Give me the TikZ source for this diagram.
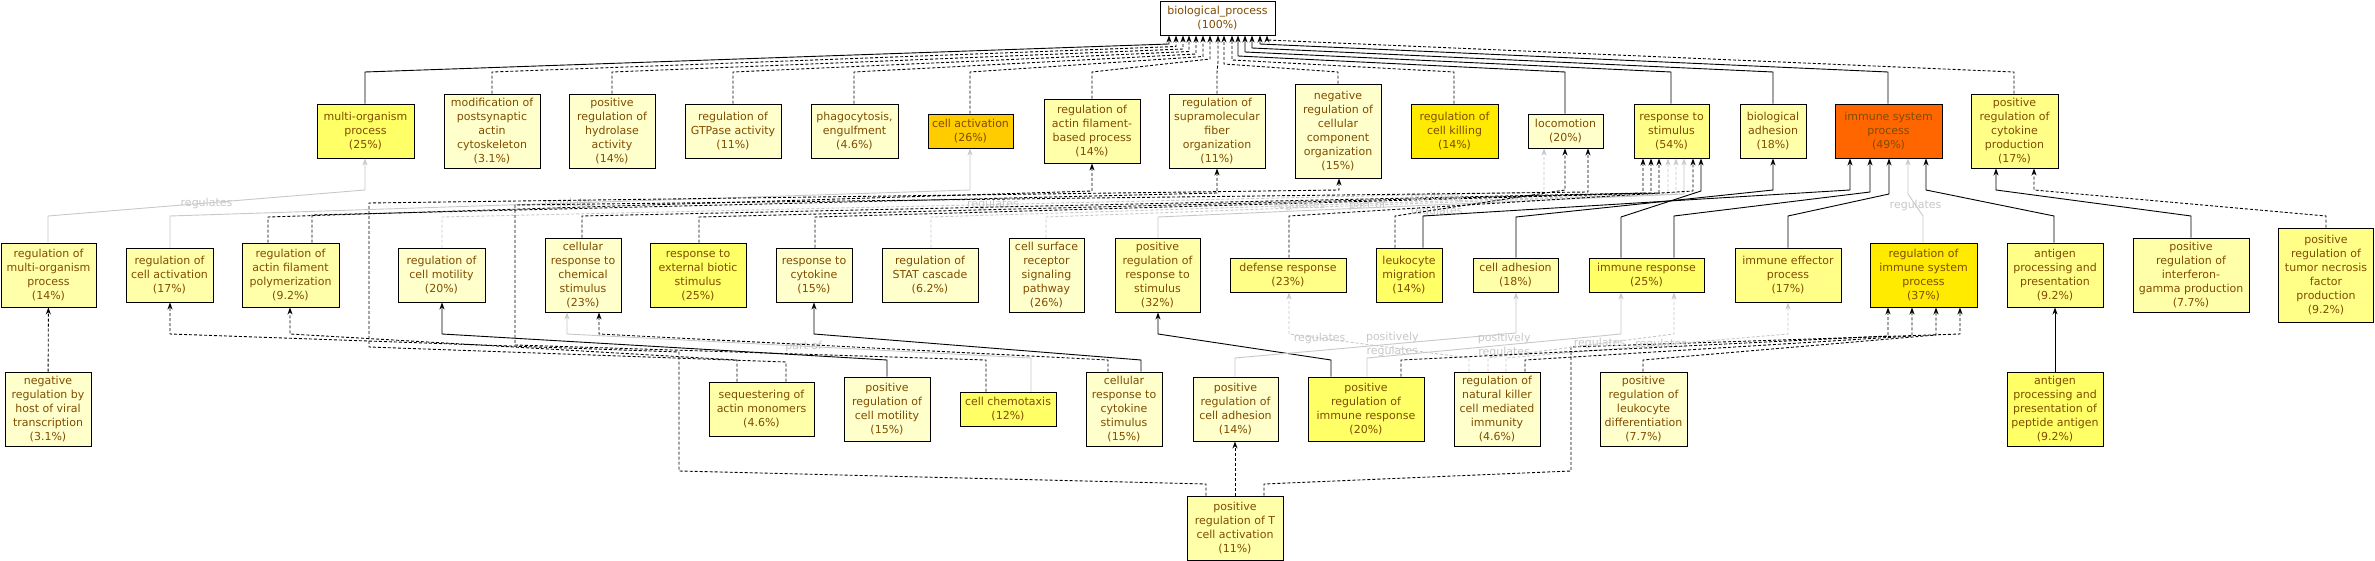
\documentclass[tikz,border=0pt]{standalone}
\usepackage{fontspec}
\setmainfont{DejaVu Sans}
\usetikzlibrary{arrows.meta}
\definecolor{txtc}{RGB}{128,76,0}
\definecolor{edgeg}{RGB}{200,200,200}
\definecolor{cw}{RGB}{255,255,255}
\definecolor{corange}{RGB}{255,102,0}
\definecolor{cgold}{RGB}{255,204,0}
\definecolor{cy0}{RGB}{255,235,0}
\definecolor{cy1}{RGB}{255,255,102}
\definecolor{cy2}{RGB}{255,255,136}
\definecolor{cy3}{RGB}{255,255,170}
\definecolor{cy4}{RGB}{255,255,204}
\tikzset{
 gobox/.style={draw=black, line width=0.9pt, text=txtc, align=center, inner sep=0pt, font=\fontsize{11}{14}\selectfont},
 isa/.style={draw=black, line width=0.9pt, -{Stealth[length=7pt,width=5pt]}},
 dsh/.style={isa, dash pattern=on 3pt off 2pt},
 rg/.style={draw=edgeg, line width=0.9pt, -{Stealth[length=7pt,width=5pt]}},
 rgd/.style={rg, dash pattern=on 3pt off 2pt},
 lbl/.style={text=edgeg, font=\fontsize{11}{14}\selectfont, inner sep=0pt, align=center},
}
\newcommand\gn[7]{\node[gobox, fill=#6, minimum width=#4pt, minimum height=#5pt] (#1) at (#2,#3) {#7};}
\newcommand\gedge[7]{\draw[#1] (#2.north -| #3,0) -- (#3,#4) -- (#6,#5) -- (#7.south -| #6,0);}
\newcommand\gedgel[9]{\draw[#1] (#2.north -| #3,0) -- (#3,#4) -- node[lbl,pos=#8]{#9} (#6,#5) -- (#7.south -| #6,0);}
\begin{document}
\begin{tikzpicture}[x=1pt,y=-1pt]
\useasboundingbox[fill=white] (0,0) rectangle (2375,561);
% row 1
\gn{bp}{1217.5}{18}{115}{34}{cw}{biological\_process\\(100\%)}
\gn{mo}{365.5}{131}{97}{54}{cy1}{multi-organism\\process\\(25\%)}
\gn{mod}{492}{131}{96}{74}{cy4}{modification of\\postsynaptic\\actin\\cytoskeleton\\(3.1\%)}
\gn{hyd}{612}{131}{86}{74}{cy4}{positive\\regulation of\\hydrolase\\activity\\(14\%)}
\gn{gtp}{733}{131}{96}{54}{cy4}{regulation of\\GTPase activity\\(11\%)}
\gn{pha}{854.5}{131}{87}{54}{cy4}{phagocytosis,\\engulfment\\(4.6\%)}
\gn{cact}{970.5}{131}{85}{34}{cgold}{cell activation\\(26\%)}
\gn{rafb}{1092}{131}{96}{64}{cy3}{regulation of\\actin filament-\\based process\\(14\%)}
\gn{supra}{1217}{131}{96}{74}{cy4}{regulation of\\supramolecular\\fiber\\organization\\(11\%)}
\gn{nrcc}{1338}{131}{86}{94}{cy4}{negative\\regulation of\\cellular\\component\\organization\\(15\%)}
\gn{rck}{1454.5}{131}{87}{54}{cy0}{regulation of\\cell killing\\(14\%)}
\gn{loco}{1565.5}{131}{75}{34}{cy4}{locomotion\\(20\%)}
\gn{rts}{1671.5}{131}{75}{54}{cy2}{response to\\stimulus\\(54\%)}
\gn{badh}{1773}{131}{66}{54}{cy3}{biological\\adhesion\\(18\%)}
\gn{isp}{1888.5}{131}{107}{54}{corange}{immune system\\process\\(49\%)}
\gn{prcp}{2014.5}{131}{87}{74}{cy2}{positive\\regulation of\\cytokine\\production\\(17\%)}
% row 2
\gn{rmo}{48.5}{275}{95}{64}{cy3}{regulation of\\multi-organism\\process\\(14\%)}
\gn{rca}{169.5}{275}{87}{54}{cy3}{regulation of\\cell activation\\(17\%)}
\gn{rafp}{290.5}{275}{97}{64}{cy3}{regulation of\\actin filament\\polymerization\\(9.2\%)}
\gn{rcm}{441.5}{275}{87}{54}{cy4}{regulation of\\cell motility\\(20\%)}
\gn{crcs}{583}{275}{76}{74}{cy4}{cellular\\response to\\chemical\\stimulus\\(23\%)}
\gn{rebs}{698}{275}{96}{64}{cy1}{response to\\external biotic\\stimulus\\(25\%)}
\gn{rcy}{814}{275}{76}{54}{cy4}{response to\\cytokine\\(15\%)}
\gn{stat}{930}{275}{96}{54}{cy4}{regulation of\\STAT cascade\\(6.2\%)}
\gn{csrs}{1046.5}{275}{75}{74}{cy4}{cell surface\\receptor\\signaling\\pathway\\(26\%)}
\gn{prrs}{1157.5}{275}{85}{74}{cy3}{positive\\regulation of\\response to\\stimulus\\(32\%)}
\gn{def}{1288}{275}{116}{34}{cy2}{defense response\\(23\%)}
\gn{lm}{1409}{275}{66}{54}{cy1}{leukocyte\\migration\\(14\%)}
\gn{cadh}{1515.5}{275}{85}{34}{cy3}{cell adhesion\\(18\%)}
\gn{ir}{1646.5}{275}{115}{34}{cy1}{immune response\\(25\%)}
\gn{iep}{1788}{275}{106}{54}{cy2}{immune effector\\process\\(17\%)}
\gn{risp}{1923.5}{275}{107}{64}{cy0}{regulation of\\immune system\\process\\(37\%)}
\gn{app}{2055}{275}{96}{64}{cy2}{antigen\\processing and\\presentation\\(9.2\%)}
\gn{pifn}{2191}{275}{116}{74}{cy3}{positive\\regulation of\\interferon-\\gamma production\\(7.7\%)}
\gn{ptnf}{2326}{275}{95}{94}{cy2}{positive\\regulation of\\tumor necrosis\\factor\\production\\(9.2\%)}
% row 3
\gn{nrhv}{48}{409}{86}{74}{cy4}{negative\\regulation by\\host of viral\\transcription\\(3.1\%)}
\gn{sam}{761.5}{409}{105}{54}{cy3}{sequestering of\\actin monomers\\(4.6\%)}
\gn{prcm}{887}{409}{86}{64}{cy4}{positive\\regulation of\\cell motility\\(15\%)}
\gn{cch}{1008}{409}{96}{34}{cy1}{cell chemotaxis\\(12\%)}
\gn{crcy}{1124}{409}{76}{74}{cy4}{cellular\\response to\\cytokine\\stimulus\\(15\%)}
\gn{prca}{1235.5}{409}{85}{64}{cy4}{positive\\regulation of\\cell adhesion\\(14\%)}
\gn{prir}{1366}{409}{116}{64}{cy1}{positive\\regulation of\\immune response\\(20\%)}
\gn{rnk}{1497}{409}{86}{74}{cy4}{regulation of\\natural killer\\cell mediated\\immunity\\(4.6\%)}
\gn{prld}{1643.5}{409}{87}{74}{cy4}{positive\\regulation of\\leukocyte\\differentiation\\(7.7\%)}
\gn{appa}{2055}{409}{96}{74}{cy1}{antigen\\processing and\\presentation of\\peptide antigen\\(9.2\%)}
% row 4
\gn{prta}{1235}{528}{96}{64}{cy3}{positive\\regulation of T\\cell activation\\(11\%)}

% edges to biological_process
\gedge{isa}{mo}{365}{72}{44}{1169}{bp}
\gedge{dsh}{mod}{492}{72}{46.5}{1176}{bp}
\gedge{dsh}{hyd}{612}{72}{49}{1183}{bp}
\gedge{dsh}{gtp}{733}{72}{51.5}{1189}{bp}
\gedge{dsh}{pha}{854}{72}{54}{1196}{bp}
\gedge{dsh}{cact}{970}{72}{56.5}{1203}{bp}
\gedge{dsh}{rafb}{1092}{72}{59}{1210}{bp}
\gedge{dsh}{supra}{1217}{72}{62}{1218}{bp}
\gedge{dsh}{nrcc}{1338}{72}{64}{1224}{bp}
\gedge{dsh}{rck}{1454}{72}{60}{1232}{bp}
\gedge{isa}{loco}{1565}{72}{56}{1238}{bp}
\gedge{isa}{rts}{1671}{72}{52}{1245}{bp}
\gedge{isa}{badh}{1773}{72}{48}{1252}{bp}
\gedge{isa}{isp}{1888}{72}{44}{1260}{bp}
\gedge{dsh}{prcp}{2014}{72}{40}{1267}{bp}

% row 2 -> row 1
\gedgel{rg}{rmo}{48}{216}{190}{365}{mo}{0.5}{regulates}
\gedgel{rg}{rca}{170}{216}{190}{970}{cact}{0.5}{regulates}
\gedge{dsh}{rafp}{268}{217}{191}{1092}{rafb}
\gedge{dsh}{rafp}{312}{215}{193}{1217}{supra}
\gedgel{rgd}{rcm}{442}{217}{192}{1544}{loco}{0.5}{regulates}
\gedge{dsh}{crcs}{582}{216}{193}{1643}{rts}
\gedge{dsh}{rebs}{699}{217}{193}{1651}{rts}
\gedge{dsh}{rcy}{815}{217}{193}{1659}{rts}
\gedgel{rgd}{stat}{931}{217}{194}{1668}{rts}{0.5}{regulates}
\gedgel{rgd}{csrs}{1046}{217}{194}{1676}{rts}{0.51}{part of}
\gedgel{rg}{prrs}{1158}{217}{194}{1684}{rts}{0.53}{positively\\regulates}
\gedge{dsh}{def}{1289}{216}{191}{1693}{rts}
\gedge{dsh}{lm}{1395}{216}{190}{1565}{loco}
\gedge{isa}{lm}{1423}{216}{190}{1850}{isp}
\gedge{isa}{ir}{1621}{217}{191}{1701}{rts}
\gedge{isa}{cadh}{1516}{217}{190}{1773}{badh}
\gedge{isa}{ir}{1674}{216}{192}{1870}{isp}
\gedge{isa}{iep}{1788}{216}{194}{1889}{isp}
\gedgel{rg}{risp}{1923}{216}{194}{1908}{isp}{0.5}{regulates}
\gedge{isa}{app}{2054}{216}{190}{1926}{isp}
\gedge{isa}{pifn}{2191}{216}{190}{1996}{prcp}
\gedge{dsh}{ptnf}{2326}{216}{190}{2034}{prcp}

% long edges
\draw[dsh] (sam.north -| 786,0) -- (786,362) -- (369,347) -- (369,203) -- (1339,190) -- (nrcc.south -| 1339,0);
\draw[dsh] (cch.north -| 986,0) -- (986,360) -- (515,345) -- (515,205) -- (1588,192) -- (loco.south -| 1588,0);
\draw[dsh] (prta.north -| 1206,0) -- (1206,484) -- (679,471) -- (679,352) -- (170,334) -- (rca.south -| 170,0);
\draw[dsh] (prta.north -| 1264,0) -- (1264,484) -- (1571,471) -- (1571,347) -- (1960,334) -- (risp.south -| 1960,0);

% row 3 -> row 2
\draw[dsh] (nrhv) -- (rmo);
\gedge{dsh}{sam}{737}{360}{334}{290}{rafp}
\gedge{isa}{prcm}{887}{360}{334}{442}{rcm}
\gedgel{rg}{cch}{1031}{358}{334}{567}{crcs}{0.49}{part of}
\gedge{dsh}{crcy}{1108}{360}{334}{599}{crcs}
\gedge{isa}{crcy}{1141}{360}{334}{814}{rcy}
\gedge{isa}{prir}{1331}{360}{334}{1158}{prrs}
\draw[dsh] (prta.north -| 1235,0) -- (prca.south -| 1235,0);
\gedgel{rg}{prca}{1235}{358}{333}{1516}{cadh}{0.56}{positively\\regulates}
\gedgel{rg}{prir}{1367}{358}{334}{1621}{ir}{0.54}{positively\\regulates}
\gedgel{rgd}{rnk}{1469}{358}{334}{1289}{def}{0.83}{regulates}
\gedgel{rgd}{rnk}{1488}{358}{334}{1674}{ir}{0.6}{regulates}
\gedgel{rgd}{rnk}{1506}{358}{334}{1788}{iep}{0.55}{regulates}
\gedge{dsh}{prir}{1401}{360}{336}{1888}{risp}
\gedge{dsh}{rnk}{1525}{360}{336}{1912}{risp}
\gedge{dsh}{prld}{1643}{360}{335}{1936}{risp}
\draw[isa] (appa) -- (app);
\end{tikzpicture}
\end{document}
